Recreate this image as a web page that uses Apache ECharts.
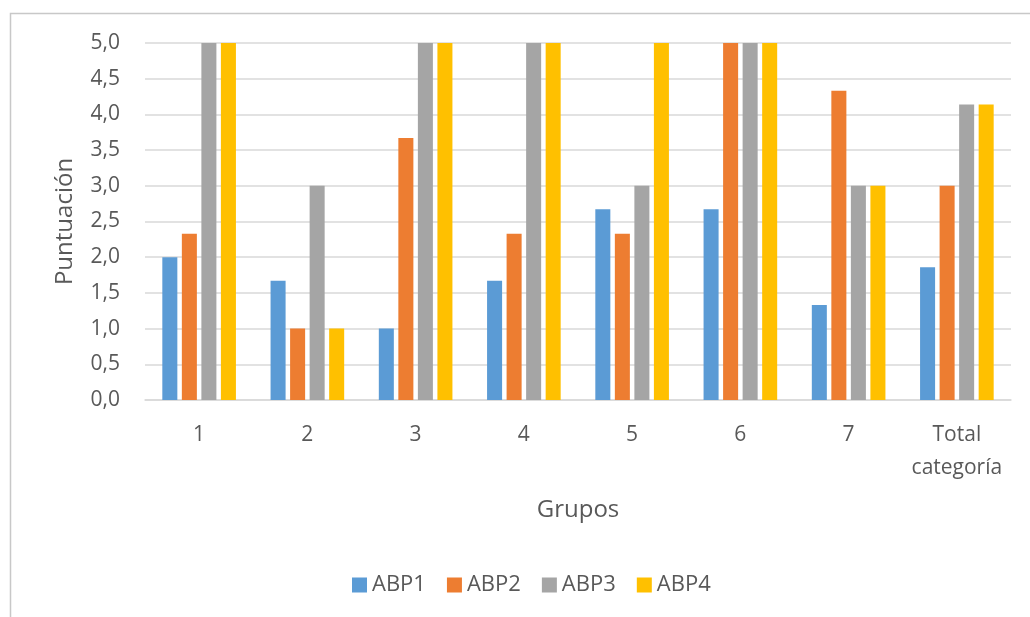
<!DOCTYPE html>
<html>
<head>
<meta charset="utf-8">
<script src="https://cdn.jsdelivr.net/npm/echarts@6/dist/echarts.min.js"></script>
<style>
html,body{margin:0;padding:0;background:#fff;}
#chart{width:1030px;height:617px;}
</style>
</head>
<body>
<div id="chart"></div>
<script>
const categories = ['1', '2', '3', '4', '5', '6', '7', 'Total\ncategoría'];
const abp1 = [2.0, 1.67, 1.0, 1.67, 2.67, 2.67, 1.33, 1.86];
const abp2 = [2.33, 1.0, 3.67, 2.33, 2.33, 5.0, 4.33, 3.0];
const abp3 = [5.0, 3.0, 5.0, 5.0, 3.0, 5.0, 3.0, 4.14];
const abp4 = [5.0, 1.0, 5.0, 5.0, 5.0, 5.0, 3.0, 4.14];
const seriesNames = ['ABP1', 'ABP2', 'ABP3', 'ABP4'];
const colors = ['#5B9BD5', '#ED7D31', '#A5A5A5', '#FFC000'];

const FONT = '"Open Sans", sans-serif';
const chart = echarts.init(document.getElementById('chart'), null, {renderer: 'canvas'});
const dataSets = [abp1, abp2, abp3, abp4];
const option = {
  animation: false,
  color: colors,
  textStyle: {fontFamily: FONT},
  graphic: [{
    type: 'rect', left: 8, top: 11, z: -10,
    shape: {width: 1100, height: 700},
    style: {fill: 'none', stroke: '#c8c8c8', lineWidth: 1.5}
  }],
  grid: {left: 145, right: 19, top: 43, bottom: 217, containLabel: false},
  legend: {
    data: seriesNames,
    top: 569,
    left: 347,
    icon: 'rect',
    itemWidth: 15, itemHeight: 15, itemGap: 21,
    textStyle: {fontSize: 22, color: '#595959', fontFamily: FONT}
  },
  xAxis: {
    type: 'category',
    data: categories,
    name: 'Grupos',
    nameLocation: 'middle',
    nameGap: 98,
    nameTextStyle: {fontSize: 24, color: '#595959', fontFamily: FONT},
    axisLine: {lineStyle: {color: '#d9d9d9', width: 1.5}},
    axisTick: {show: false},
    axisLabel: {interval: 0, fontSize: 21, color: '#595959', margin: 19, lineHeight: 33, fontFamily: FONT}
  },
  yAxis: {
    type: 'value',
    min: 0, max: 5, interval: 0.5,
    name: 'Puntuación',
    nameLocation: 'middle',
    nameGap: 68,
    nameTextStyle: {fontSize: 24, color: '#595959', fontFamily: FONT},
    axisLine: {show: false},
    axisTick: {show: false},
    splitLine: {lineStyle: {color: '#d9d9d9', width: 1.5}},
    axisLabel: {
      fontSize: 21, color: '#595959', margin: 25, fontFamily: FONT,
      formatter: v => v.toFixed(1).replace('.', ',')
    }
  },
  series: seriesNames.map((n, i) => ({
    name: n,
    type: 'bar',
    data: dataSets[i],
    barGap: '30%',
    barCategoryGap: '32%',
    itemStyle: {color: colors[i]}
  }))
};
chart.setOption(option);
</script>
</body>
</html>
